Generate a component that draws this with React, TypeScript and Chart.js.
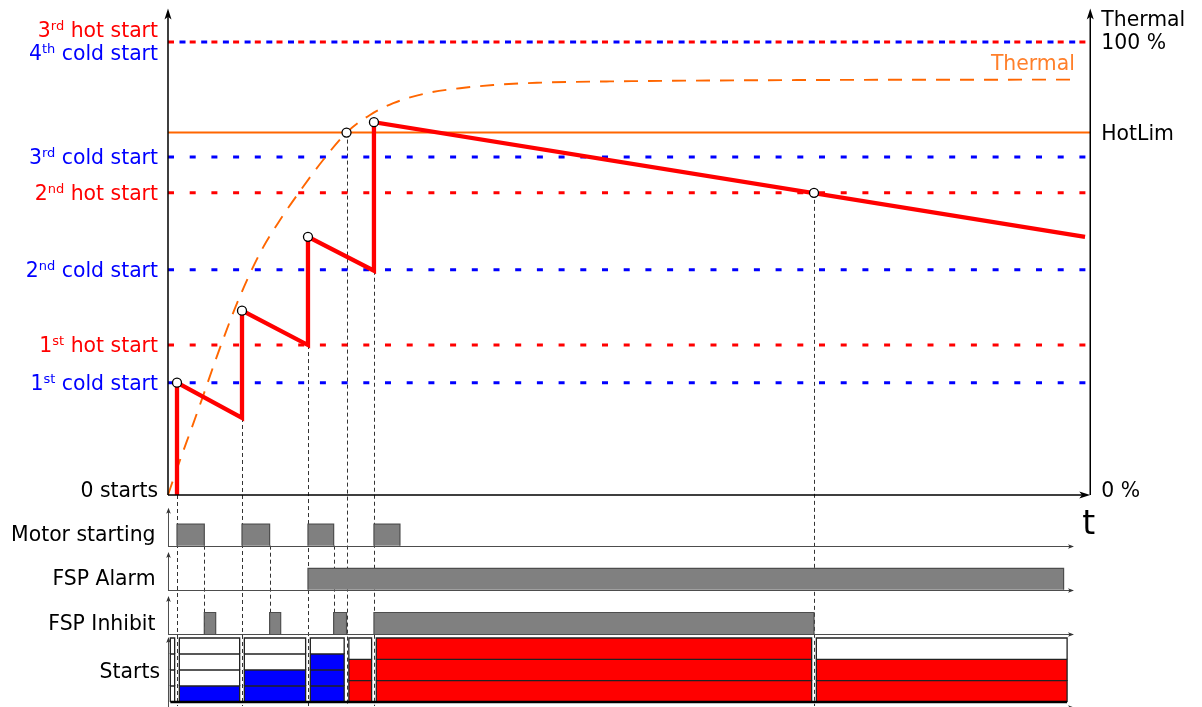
import React, { useEffect, useRef } from 'react';
import { Chart, registerables } from 'chart.js';

Chart.register(...registerables);

// ---------------- data ----------------
// time t in arbitrary units (first motor start at t = 0); thermal level in % of trip level
const AXIS_T = [-1.385, 140.5];
const THERMAL_AXIS_TOP = 107.4;
const LEVEL_END_T = 140.2;
const LANE_AXIS_END_T = 138.0;

const COLD_LEVELS = [24.8, 49.7, 74.6, 100];
const COLD_ORDINALS = [['1', 'st'], ['2', 'nd'], ['3', 'rd'], ['4', 'th']];
const HOT_LEVELS = [33.1, 66.7, 100];
const HOT_ORDINALS = [['1', 'st'], ['2', 'nd'], ['3', 'rd']];
const HOTLIM = 80;

// thermal image (dashed orange curve)
const THERMAL_T = [-1.385, 0.46, 2.26, 3.8, 6.11, 9.43, 12.77, 15.85, 19.43, 22.51, 26.08, 29.69, 33.28, 38.42, 43.54, 48.66, 55.34, 66.6, 95.85, 138.9];
const THERMAL_V = [0, 7.7, 14.8, 21.0, 30.5, 43.0, 53.4, 60.7, 68.1, 74.0, 80.0, 83.9, 86.5, 88.7, 89.8, 90.5, 91.0, 91.3, 91.6, 91.7];

// start counter trace (red)
const TRACE_T = [0, 0, 10, 10, 20.15, 20.15, 30.3, 30.3, 139.7];
const TRACE_V = [0, 24.8, 17.0, 40.7, 33.1, 57.0, 49.5, 82.3, 57.0];

// circle markers
const MARK_T = [0, 10, 20.15, 26.08, 30.3, 98.0];
const MARK_V = [24.8, 40.7, 57.0, 80, 82.3, 66.7];

// digital lanes: [on, off]
const MOTOR_ON = [[0, 4.2], [10, 14.25], [20.15, 24.1], [30.3, 34.3]];
const ALARM_ON = [[20.15, 136.4]];
const INHIBIT_ON = [[4.2, 5.95], [14.25, 15.95], [24.1, 26.08], [30.3, 98.0]];
const LANE_NAMES = ['Motor starting', 'FSP Alarm', 'FSP Inhibit'];
const STARTS_NAME = 'Starts';

// starts counter boxes
const STATE_BOUNDS = [-1.385, 0, 10, 20.15, 26.08, 30.3, 98.0, 137.3];
const STATE_SLOTS = [4, 4, 4, 4, 3, 3, 3];
const STATE_USED = [0, 1, 2, 3, 2, 3, 2];
const STATE_KIND = ['cold', 'cold', 'cold', 'cold', 'hot', 'hot', 'hot'];

// dashed connectors
const LONG_CONNECTOR_T = [0, 10, 20.15, 26.08, 30.3, 98.0];
const LONG_CONNECTOR_V = [0, 17.0, 33.1, 80, 49.5, 66.7];
const SHORT_CONNECTOR_T = [4.2, 14.25, 24.1];

// ---------------- styling ----------------
const RED = '#ff0000';
const BLUE = '#0000ff';
const ORANGE = '#ff6600';
const ORANGE_TEXT = '#ff7f2a';
const FONT = '"DejaVu Sans", "Liberation Sans", sans-serif';
const FONT_SIZE = 20.4;
const BAR_H = 0.487;
const BOX_GAP = 0.36;
const DOT_DASH = [6, 15.7];

const pts = (ts: number[], vs: number[]) => ts.map((t, i) => ({ x: t, y: vs[i] }));

function buildDatasets() {
  const ds: any[] = [];
  const base = { type: 'line', pointRadius: 0, tension: 0, fill: false };
  // level lines
  COLD_LEVELS.forEach((v) => {
    const shared = HOT_LEVELS.includes(v);
    ds.push({ ...base, yAxisID: 'y', order: 5, data: [{ x: AXIS_T[0], y: v }, { x: LEVEL_END_T, y: v }], borderColor: BLUE, borderWidth: 3, borderDash: DOT_DASH, borderDashOffset: shared ? 10.2 : 0 });
  });
  HOT_LEVELS.forEach((v) => {
    ds.push({ ...base, yAxisID: 'y', order: 5, data: [{ x: AXIS_T[0], y: v }, { x: LEVEL_END_T, y: v }], borderColor: RED, borderWidth: 3, borderDash: DOT_DASH });
  });
  // HotLim
  ds.push({ ...base, yAxisID: 'y', order: 4, data: [{ x: AXIS_T[0], y: HOTLIM }, { x: AXIS_T[1], y: HOTLIM }], borderColor: ORANGE, borderWidth: 2 });
  // thermal curve
  ds.push({ ...base, yAxisID: 'y', order: 3, data: pts(THERMAL_T, THERMAL_V), borderColor: ORANGE, borderWidth: 1.9, borderDash: [14, 10], cubicInterpolationMode: 'monotone' });
  // trace
  ds.push({ ...base, yAxisID: 'y', order: 2, data: pts(TRACE_T, TRACE_V), borderColor: RED, borderWidth: 4.3, borderJoinStyle: 'miter', borderCapStyle: 'butt' });
  // markers
  ds.push({ type: 'scatter', yAxisID: 'y', order: 0, data: pts(MARK_T, MARK_V), showLine: false, pointRadius: 4.5, pointBackgroundColor: '#ffffff', pointBorderColor: '#000000', pointBorderWidth: 1.3 });
  // lanes
  [MOTOR_ON, ALARM_ON, INHIBIT_ON].forEach((lane, i) => {
    const b = -i;
    lane.forEach(([a, e]) => {
      ds.push({ ...base, yAxisID: 'yl', order: 6, data: [{ x: a, y: b }, { x: a, y: b + BAR_H }, { x: e, y: b + BAR_H }, { x: e, y: b }], fill: { value: b }, backgroundColor: '#808080', borderColor: '#4d4d4d', borderWidth: 1.2 });
    });
  });
  // start boxes
  STATE_SLOTS.forEach((n, i) => {
    const x0 = STATE_BOUNDS[i] + BOX_GAP;
    const x1 = STATE_BOUNDS[i + 1] - BOX_GAP;
    for (let j = 0; j < n; j++) {
      const y0 = j / n;
      const y1 = (j + 1) / n;
      const used = j < STATE_USED[i];
      const col = used ? (STATE_KIND[i] === 'cold' ? BLUE : RED) : '#ffffff';
      ds.push({ ...base, yAxisID: 'ys', order: 7, data: [{ x: x0, y: y0 }, { x: x0, y: y1 }, { x: x1, y: y1 }, { x: x1, y: y0 }], fill: { value: y0 }, backgroundColor: col, borderColor: '#222222', borderWidth: 1.3 });
    }
  });
  ds.push({ ...base, yAxisID: 'ys', order: 1, data: [{ x: STATE_BOUNDS[0] + BOX_GAP, y: 0 }, { x: STATE_BOUNDS[STATE_BOUNDS.length - 1] - BOX_GAP, y: 0 }], borderColor: '#000000', borderWidth: 2.5 });
  return ds;
}

function arrow(ctx: CanvasRenderingContext2D, tx: number, ty: number, dx: number, dy: number, len: number, hw: number, color: string) {
  const bx = tx - dx * len;
  const by = ty - dy * len;
  const nx = -dy, ny = dx;
  ctx.save();
  ctx.fillStyle = color;
  ctx.beginPath();
  ctx.moveTo(tx, ty);
  ctx.lineTo(bx + nx * hw, by + ny * hw);
  ctx.lineTo(tx - dx * len * 0.75, ty - dy * len * 0.75);
  ctx.lineTo(bx - nx * hw, by - ny * hw);
  ctx.closePath();
  ctx.fill();
  ctx.restore();
}

type Seg = { t: string; sup?: boolean };
function rich(ctx: CanvasRenderingContext2D, segs: Seg[], x: number, baseline: number, color: string, alignRight: boolean, size = FONT_SIZE) {
  const main = `${size}px ${FONT}`;
  const sup = `${Math.round(size * 0.65)}px ${FONT}`;
  const widths = segs.map((s) => { ctx.font = s.sup ? sup : main; return ctx.measureText(s.t).width; });
  const total = widths.reduce((a, b) => a + b, 0);
  let cx = alignRight ? x - total : x;
  ctx.fillStyle = color;
  ctx.textBaseline = 'alphabetic';
  ctx.textAlign = 'left';
  segs.forEach((s, i) => {
    ctx.font = s.sup ? sup : main;
    ctx.fillText(s.t, cx, s.sup ? baseline - 7 : baseline);
    cx += widths[i];
  });
}

const overlay = {
  id: 'overlay',
  beforeDatasetsDraw(chart: any) {
    const { ctx } = chart;
    const { x, y, yl, ys } = chart.scales;
    ctx.save();
    ctx.setLineDash([4, 3]);
    ctx.strokeStyle = '#333333';
    ctx.lineWidth = 1;
    const bottom = ys.getPixelForValue(0) + 4;
    LONG_CONNECTOR_T.forEach((t, i) => {
      const px = Math.round(x.getPixelForValue(t)) + 0.5;
      ctx.beginPath();
      ctx.moveTo(px, y.getPixelForValue(LONG_CONNECTOR_V[i]));
      ctx.lineTo(px, bottom);
      ctx.stroke();
    });
    SHORT_CONNECTOR_T.forEach((t) => {
      const px = Math.round(x.getPixelForValue(t)) + 0.5;
      ctx.beginPath();
      ctx.moveTo(px, yl.getPixelForValue(0));
      ctx.lineTo(px, yl.getPixelForValue(-2));
      ctx.stroke();
    });
    ctx.restore();
  },
  afterDatasetsDraw(chart: any) {
    const { ctx } = chart;
    const { x, y, yl, ys } = chart.scales;
    const x0 = x.getPixelForValue(AXIS_T[0]);
    const x1 = x.getPixelForValue(AXIS_T[1]);
    const y0 = y.getPixelForValue(0);
    const yTop = y.getPixelForValue(THERMAL_AXIS_TOP);
    ctx.save();
    // main axes
    ctx.strokeStyle = '#000';
    ctx.lineWidth = 1.5;
    ctx.beginPath();
    ctx.moveTo(x0, y0); ctx.lineTo(x0, yTop + 8);
    ctx.moveTo(x1, y0); ctx.lineTo(x1, yTop + 8);
    ctx.moveTo(x0, y0); ctx.lineTo(x1 - 8, y0);
    ctx.stroke();
    arrow(ctx, x0, yTop, 0, -1, 11, 3.5, '#000');
    arrow(ctx, x1, yTop, 0, -1, 11, 3.5, '#000');
    arrow(ctx, x1, y0, 1, 0, 11, 3.5, '#000');
    // lane axes
    const xe = x.getPixelForValue(LANE_AXIS_END_T);
    ctx.strokeStyle = '#4d4d4d';
    ctx.lineWidth = 1;
    const laneBases = [yl.getPixelForValue(0), yl.getPixelForValue(-1), yl.getPixelForValue(-2), ys.getPixelForValue(0) + 4.5];
    const laneTops = [yl.getPixelForValue(0.86), yl.getPixelForValue(-1 + 0.86), yl.getPixelForValue(-2 + 0.86), ys.getPixelForValue(1) - 1];
    laneBases.forEach((b, i) => {
      const bb = Math.round(b) + 0.5;
      ctx.beginPath();
      ctx.moveTo(x0, bb); ctx.lineTo(xe - 4, bb);
      ctx.moveTo(x0 + 0.5, bb); ctx.lineTo(x0 + 0.5, laneTops[i] + 4);
      ctx.stroke();
      arrow(ctx, xe, bb, 1, 0, 6, 2.3, '#333');
      arrow(ctx, x0 + 0.5, laneTops[i], 0, -1, 6, 2.3, '#333');
    });
    // left level labels
    const LX = 158;
    COLD_LEVELS.forEach((v, i) => {
      const shared = HOT_LEVELS.includes(v);
      const py = y.getPixelForValue(v) + (shared ? 18.3 : 7);
      rich(ctx, [{ t: COLD_ORDINALS[i][0] }, { t: COLD_ORDINALS[i][1], sup: true }, { t: ' cold start' }], LX, py, BLUE, true);
    });
    HOT_LEVELS.forEach((v, i) => {
      const shared = COLD_LEVELS.includes(v);
      const py = y.getPixelForValue(v) + (shared ? -4.7 : 7);
      rich(ctx, [{ t: HOT_ORDINALS[i][0] }, { t: HOT_ORDINALS[i][1], sup: true }, { t: ' hot start' }], LX, py, RED, true);
    });
    rich(ctx, [{ t: '0 starts' }], LX, y0 + 2, '#000', true);
    // right labels
    const RX = x1 + 11;
    rich(ctx, [{ t: 'Thermal' }], RX, y.getPixelForValue(100) - 16, '#000', false);
    rich(ctx, [{ t: '100 %' }], RX, y.getPixelForValue(100) + 6.5, '#000', false);
    rich(ctx, [{ t: 'HotLim' }], RX, y.getPixelForValue(HOTLIM) + 7, '#000', false);
    rich(ctx, [{ t: '0 %' }], RX, y0 + 2, '#000', false);
    // thermal curve label
    const lt = THERMAL_T[THERMAL_T.length - 1];
    const lv = THERMAL_V[THERMAL_V.length - 1];
    rich(ctx, [{ t: 'Thermal' }], x.getPixelForValue(lt) - 5, y.getPixelForValue(lv) - 9.5, ORANGE_TEXT, true);
    // time label
    rich(ctx, [{ t: 't' }], x1 - 8, y0 + 39, '#000', false, 33);
    // lane labels
    LANE_NAMES.forEach((n, i) => {
      rich(ctx, [{ t: n }], 155.5, yl.getPixelForValue(-i) - 4.5, '#000', true);
    });
    rich(ctx, [{ t: STARTS_NAME }], 160, ys.getPixelForValue(0.5) + 8, '#000', true);
    ctx.restore();
  },
};

// scale mapping (layout): x px = 177 + 6.5 t ; thermal px = 495 - 4.53 v
const W = 1202, H = 707;
const scales = {
  x: { type: 'linear', display: false, min: -177 / 6.5, max: (W - 177) / 6.5 },
  y: { type: 'linear', display: false, min: (495 - H) / 4.53, max: 495 / 4.53 },
  yl: { type: 'linear', display: false, min: (545.7 - H) / 44.15, max: 545.7 / 44.15 },
  ys: { type: 'linear', display: false, min: (702 - H) / 64, max: 702 / 64 },
};

export default function App() {
  const ref = useRef<HTMLCanvasElement>(null);
  useEffect(() => {
    document.body.style.margin = '0';
    document.body.style.overflow = 'hidden';
    const chart = new Chart(ref.current as HTMLCanvasElement, {
      type: 'line',
      data: { datasets: buildDatasets() },
      options: {
        animation: false,
        responsive: false,
        maintainAspectRatio: false,
        events: [],
        layout: { padding: 0, autoPadding: false },
        scales: scales as any,
        plugins: { legend: { display: false }, tooltip: { enabled: false }, title: { display: false } },
      },
      plugins: [overlay],
    } as any);
    return () => chart.destroy();
  }, []);
  return <canvas ref={ref} width={W} height={H} style={{ display: 'block', width: W + 'px', height: H + 'px' }} />;
}
